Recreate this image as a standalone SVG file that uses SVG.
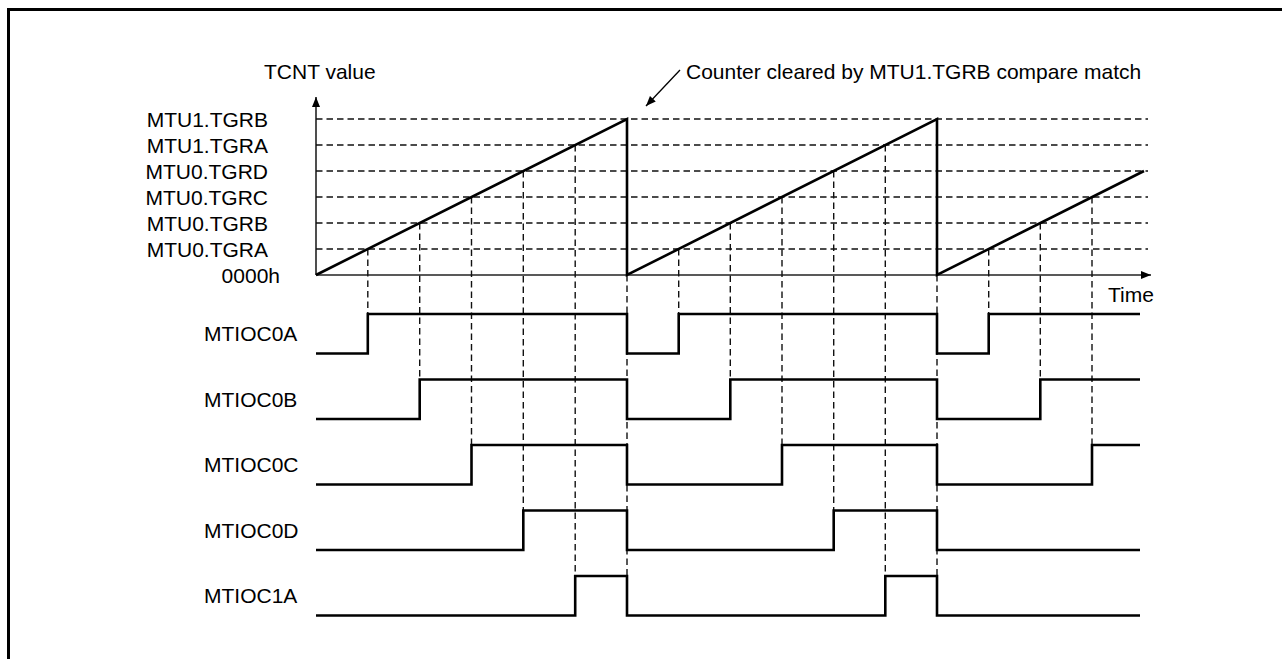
<svg xmlns="http://www.w3.org/2000/svg" width="1282" height="659" viewBox="0 0 1282 659">
<style>
text{font-family:"Liberation Sans",Arial,sans-serif;font-size:21px;fill:#000}
.r{text-anchor:end}
.ax{stroke:#222;stroke-width:1.6;fill:none}
.dash{stroke:#111;stroke-width:1.4;stroke-dasharray:6.5 4;fill:none}
.ramp{stroke:#000;stroke-width:2.6;fill:none;stroke-linejoin:miter}
.wave{stroke:#000;stroke-width:2.6;fill:none;stroke-linejoin:miter}
.frame{stroke:#000;stroke-width:3;fill:none}
</style>
<defs>
<marker id="ah" viewBox="0 0 10 8" refX="10" refY="4" markerWidth="10" markerHeight="8" markerUnits="userSpaceOnUse" orient="auto">
<path d="M0,0 L10,4 L0,8 Z" fill="#000"/>
</marker>
</defs>
<rect width="1282" height="659" fill="#fff"/>
<path class="frame" d="M8.5,659 V9.5 H1282"/>

<g id="axes">
<line class="ax" x1="316" y1="275" x2="316" y2="97" marker-end="url(#ah)"/>
<line class="ax" x1="316" y1="275" x2="1151" y2="275" marker-end="url(#ah)"/>
<text x="264" y="79">TCNT value</text>
<text x="1108" y="302">Time</text>
</g>

<g id="levels">
<path class="dash" d="M316,119H1148M316,145H1148M316,171H1148M316,197H1148M316,223H1148M316,249H1148"/>
<text class="r" x="268" y="126.5">MTU1.TGRB</text>
<text class="r" x="268" y="152.5">MTU1.TGRA</text>
<text class="r" x="268" y="178.5">MTU0.TGRD</text>
<text class="r" x="268" y="204.5">MTU0.TGRC</text>
<text class="r" x="268" y="230.5">MTU0.TGRB</text>
<text class="r" x="268" y="256.5">MTU0.TGRA</text>
<text class="r" x="280" y="282.5">0000h</text>
</g>

<g id="connectors">
<path class="dash" d="M367.8,249V314M419.7,223V379.5M471.5,197V445M523.3,171V510.5M575.2,145V576M627,275V615
M678.7,249V314M730.3,223V379.5M782,197V445M833.7,171V510.5M885.3,145V576M937,275V615
M988.7,249V314M1040.3,223V379.5M1092,197V445"/>
</g>

<g id="counter">
<path class="ramp" d="M316,275 L627,119 V275 L937,119 V275 L1144,171"/>
</g>

<g id="note">
<line x1="680" y1="70" x2="646" y2="106" stroke="#000" stroke-width="1.3" marker-end="url(#ah)"/>
<text x="686" y="79">Counter cleared by MTU1.TGRB compare match</text>
</g>

<g id="MTIOC0A">
<text x="204" y="341">MTIOC0A</text>
<path class="wave" d="M316,353.5H367.8V314H627V353.5H678.7V314H937V353.5H988.7V314H1140"/>
</g>
<g id="MTIOC0B">
<text x="204" y="406.5">MTIOC0B</text>
<path class="wave" d="M316,419H419.7V379.5H627V419H730.3V379.5H937V419H1040.3V379.5H1140"/>
</g>
<g id="MTIOC0C">
<text x="204" y="472">MTIOC0C</text>
<path class="wave" d="M316,484.5H471.5V445H627V484.5H782V445H937V484.5H1092V445H1140"/>
</g>
<g id="MTIOC0D">
<text x="204" y="537.5">MTIOC0D</text>
<path class="wave" d="M316,550H523.3V510.5H627V550H833.7V510.5H937V550H1140"/>
</g>
<g id="MTIOC1A">
<text x="204" y="603">MTIOC1A</text>
<path class="wave" d="M316,615.5H575.2V576H627V615.5H885.3V576H937V615.5H1140"/>
</g>
</svg>
